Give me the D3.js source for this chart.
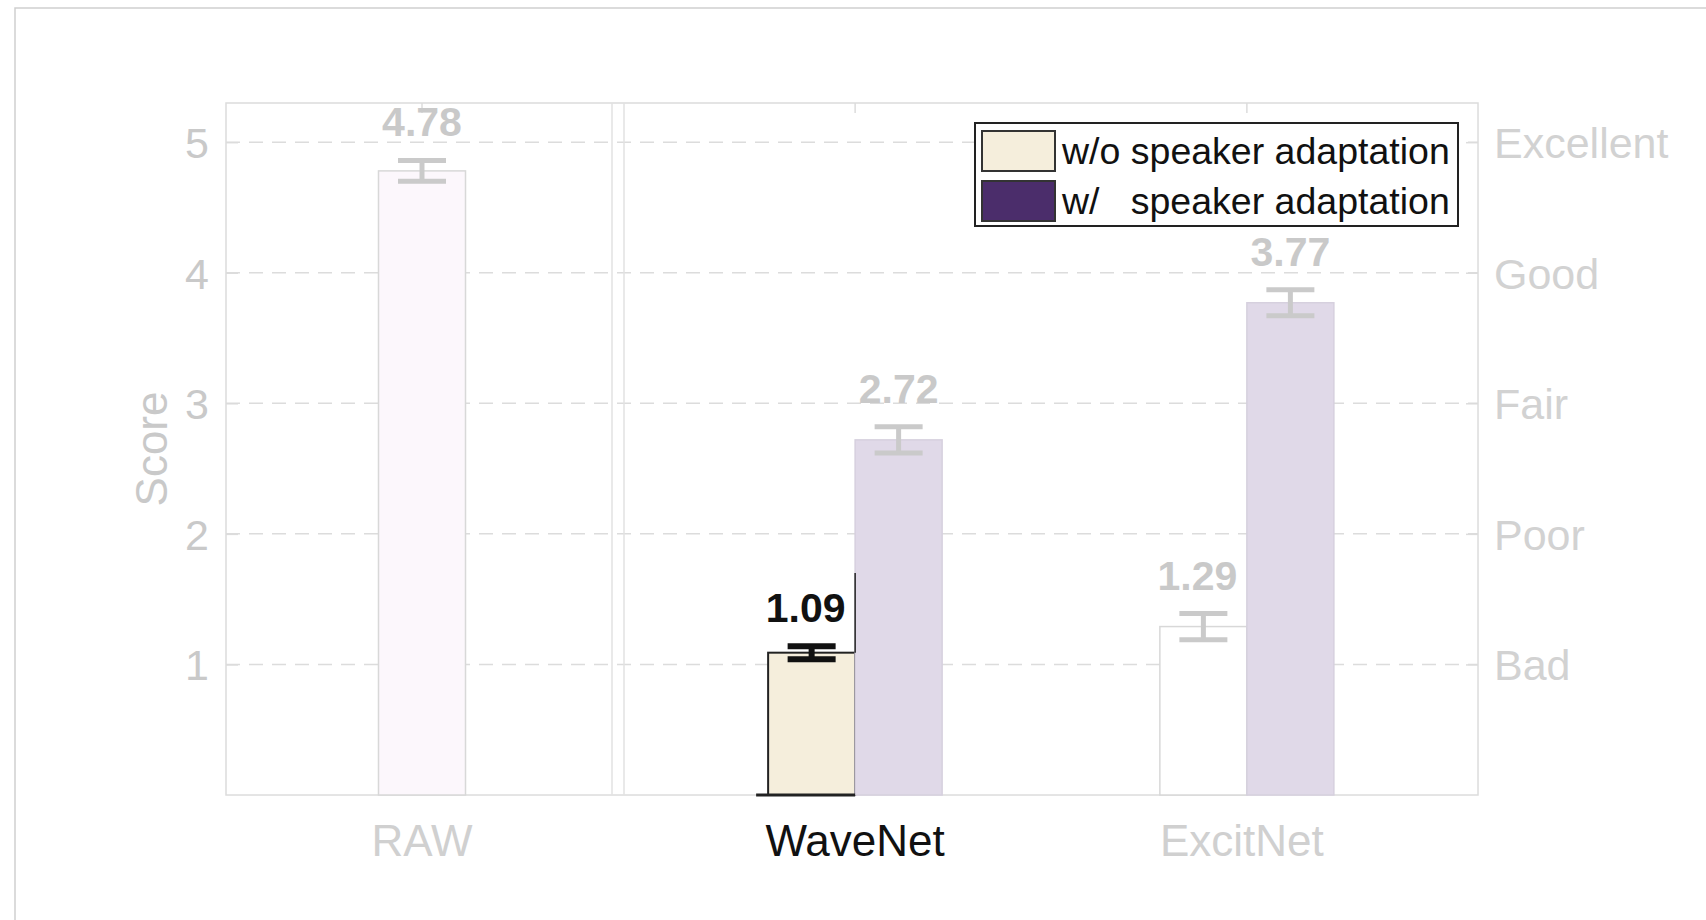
<!DOCTYPE html>
<html>
<head>
<meta charset="utf-8">
<script src="https://cdn.jsdelivr.net/npm/d3@7"></script>
<style>
  html, body { margin: 0; padding: 0; background: #fff; }
  svg { display: block; }
  text { font-family: "Liberation Sans", Arial, sans-serif; }
</style>
</head>
<body>
<svg id="chart" width="1706" height="920"></svg>
<script>
// MOS scores per vocoder, with and without speaker adaptation
const categories = ["RAW", "WaveNet", "ExcitNet"];
const seriesNames = ["w/o speaker adaptation", "w/   speaker adaptation"];
const rawScore = [4.78];
const rawError = [0.08];
const withoutAdaptScores = [1.09, 1.29];   // WaveNet, ExcitNet
const withoutAdaptErrors = [0.05, 0.10];
const withAdaptScores = [2.72, 3.77];      // WaveNet, ExcitNet
const withAdaptErrors = [0.10, 0.10];
const yTicks = [1, 2, 3, 4, 5];
const qualityLabels = ["Bad", "Poor", "Fair", "Good", "Excellent"];

const svg = d3.select("#chart");
const W = 1706, H = 920;

// plot geometry
const plot = { left: 226, right: 1478, top: 103, bottom: 795 };
const divider = [612, 624];
const barW = 87;

const y = d3.scaleLinear().domain([0, 5.3]).range([plot.bottom, plot.top]);

// RAW sits in its own panel on the left, the vocoders share the right panel
const xRaw = d3.scalePoint().domain(["RAW"]).range([plot.left, divider[0]]).padding(0.5);
const xVoc = d3.scalePoint().domain(["WaveNet", "ExcitNet"]).range([divider[1], plot.right]).padding(0.59);
const xCenter = c => c === "RAW" ? xRaw(c) + 3 : xVoc(c);
const xSeries = d3.scaleBand().domain(["wo", "w"]).range([-barW, barW]);

const grey = "#c9c9c9";
const lightGrey = "#dcdcdc";

// outer frame
svg.append("path")
  .attr("d", `M15,${H} L15,8 L${W},8`)
  .attr("fill", "none").attr("stroke", "#cfcfcf").attr("stroke-width", 1.5);

// dashed grid
svg.append("g").selectAll("line").data(yTicks).join("line")
  .attr("x1", plot.left).attr("x2", plot.right)
  .attr("y1", d => y(d)).attr("y2", d => y(d))
  .attr("stroke", lightGrey).attr("stroke-width", 1.5)
  .attr("stroke-dasharray", "14 9");

// left axis ticks and labels
const leftAxis = d3.axisLeft(y).tickValues(yTicks).tickSize(-12).tickPadding(17).tickFormat(d3.format("d"));
const gl = svg.append("g").attr("transform", `translate(${plot.left},0)`).call(leftAxis);
gl.select(".domain").remove();
gl.selectAll(".tick line").attr("stroke", lightGrey).attr("stroke-width", 1.5);
gl.selectAll(".tick text").attr("fill", grey).attr("font-size", 43)
  .attr("font-family", "'Liberation Sans', Arial, sans-serif").attr("dy", "0.36em");

// right axis quality labels
const rightAxis = d3.axisRight(y).tickValues(yTicks).tickSize(-12).tickPadding(16)
  .tickFormat((d, i) => qualityLabels[i]);
const gr = svg.append("g").attr("transform", `translate(${plot.right},0)`).call(rightAxis);
gr.select(".domain").remove();
gr.selectAll(".tick line").attr("stroke", lightGrey).attr("stroke-width", 1.5);
gr.selectAll(".tick text").attr("fill", "#d2d2d2").attr("font-size", 43)
  .attr("font-family", "'Liberation Sans', Arial, sans-serif").attr("dy", "0.36em");

// y title
svg.append("text")
  .attr("transform", `translate(151,${(y(0) + y(5.3)) / 2}) rotate(-90)`)
  .attr("text-anchor", "middle").attr("dy", "0.36em")
  .attr("font-size", 44).attr("fill", grey).text("Score");

// plot box and panel divider
svg.append("rect")
  .attr("x", plot.left).attr("y", plot.top)
  .attr("width", plot.right - plot.left).attr("height", plot.bottom - plot.top)
  .attr("fill", "none").attr("stroke", lightGrey).attr("stroke-width", 1.5);
divider.forEach(dx => {
  svg.append("line").attr("x1", dx).attr("x2", dx).attr("y1", plot.top).attr("y2", plot.bottom)
    .attr("stroke", "#e2e2e2").attr("stroke-width", 1.5);
});

// top category ticks
svg.append("g").selectAll("line").data(categories).join("line")
  .attr("x1", d => xCenter(d)).attr("x2", d => xCenter(d))
  .attr("y1", plot.top).attr("y2", plot.top + 10)
  .attr("stroke", lightGrey).attr("stroke-width", 1.5);

// bar records
const bars = [
  { cat: "RAW", s: null, v: rawScore[0], e: rawError[0], fill: "#fcf7fc", stroke: "#d8d8d8", ink: grey, strong: false },
  { cat: "WaveNet", s: "wo", v: withoutAdaptScores[0], e: withoutAdaptErrors[0], fill: "#f5eedc", stroke: "#222", ink: "#111", strong: true },
  { cat: "WaveNet", s: "w", v: withAdaptScores[0], e: withAdaptErrors[0], fill: "#e0d9e8", stroke: "#d6d0de", ink: grey, strong: false },
  { cat: "ExcitNet", s: "wo", v: withoutAdaptScores[1], e: withoutAdaptErrors[1], fill: "#ffffff", stroke: "#d8d8d8", ink: grey, strong: false },
  { cat: "ExcitNet", s: "w", v: withAdaptScores[1], e: withAdaptErrors[1], fill: "#e0d9e8", stroke: "#d6d0de", ink: grey, strong: false }
];
bars.forEach(b => {
  b.x0 = b.s === null ? xCenter(b.cat) - barW / 2 : xCenter(b.cat) + xSeries(b.s);
  b.cx = b.x0 + barW / 2;
});

const gBars = svg.append("g");
gBars.selectAll("rect").data(bars).join("rect")
  .attr("x", d => d.x0).attr("y", d => y(d.v))
  .attr("width", barW).attr("height", d => y(0) - y(d.v))
  .attr("fill", d => d.fill).attr("stroke", d => d.stroke)
  .attr("stroke-width", d => d.strong ? 2 : 1.5);

// emphasised WaveNet baseline and edge
const wn = bars[1];
svg.append("line").attr("x1", wn.x0 - 12).attr("x2", wn.x0 + barW)
  .attr("y1", y(0)).attr("y2", y(0)).attr("stroke", "#222").attr("stroke-width", 3);
svg.append("line").attr("x1", wn.x0 + barW).attr("x2", wn.x0 + barW)
  .attr("y1", y(wn.v)).attr("y2", y(1.7)).attr("stroke", "#222").attr("stroke-width", 1.5);

// error bars
const capW = 48;
const gErr = svg.append("g");
bars.forEach(b => {
  const g = gErr.append("g").attr("stroke", b.strong ? "#111" : "#cacaca")
    .attr("stroke-width", b.strong ? 6 : 5);
  g.append("line").attr("x1", b.cx).attr("x2", b.cx).attr("y1", y(b.v + b.e)).attr("y2", y(b.v - b.e));
  g.append("line").attr("x1", b.cx - capW / 2).attr("x2", b.cx + capW / 2).attr("y1", y(b.v + b.e)).attr("y2", y(b.v + b.e));
  g.append("line").attr("x1", b.cx - capW / 2).attr("x2", b.cx + capW / 2).attr("y1", y(b.v - b.e)).attr("y2", y(b.v - b.e));
});

// value labels
svg.append("g").selectAll("text").data(bars).join("text")
  .attr("x", d => d.cx - (d.s === "wo" ? 6 : 0)).attr("y", d => y(d.v + d.e) - 24)
  .attr("text-anchor", "middle")
  .attr("font-family", "Lato, 'Open Sans', sans-serif").attr("font-weight", "bold")
  .attr("font-size", 41).attr("fill", d => d.ink)
  .text(d => d3.format(".2f")(d.v));

// category labels
svg.append("g").selectAll("text").data(categories).join("text")
  .attr("x", d => xCenter(d) - (d === "ExcitNet" ? 5 : 0)).attr("y", 856)
  .attr("text-anchor", "middle").attr("font-size", 44)
  .attr("fill", d => d === "WaveNet" ? "#111" : "#d0d0d0")
  .text(d => d);

// legend
const leg = svg.append("g");
leg.append("rect").attr("x", 975).attr("y", 123).attr("width", 483).attr("height", 103)
  .attr("fill", "#fff").attr("stroke", "#222").attr("stroke-width", 2);
const legendFills = ["#f5eedc", "#4b2d6b"];
seriesNames.forEach((name, i) => {
  leg.append("rect").attr("x", 982).attr("y", 131 + i * 50).attr("width", 73).attr("height", 40)
    .attr("fill", legendFills[i]).attr("stroke", "#333").attr("stroke-width", 2);
  leg.append("text").attr("x", 1062).attr("y", 164 + i * 50)
    .attr("font-size", 37.5).attr("fill", "#111")
    .style("white-space", "pre").text(name);
});
</script>
</body>
</html>
